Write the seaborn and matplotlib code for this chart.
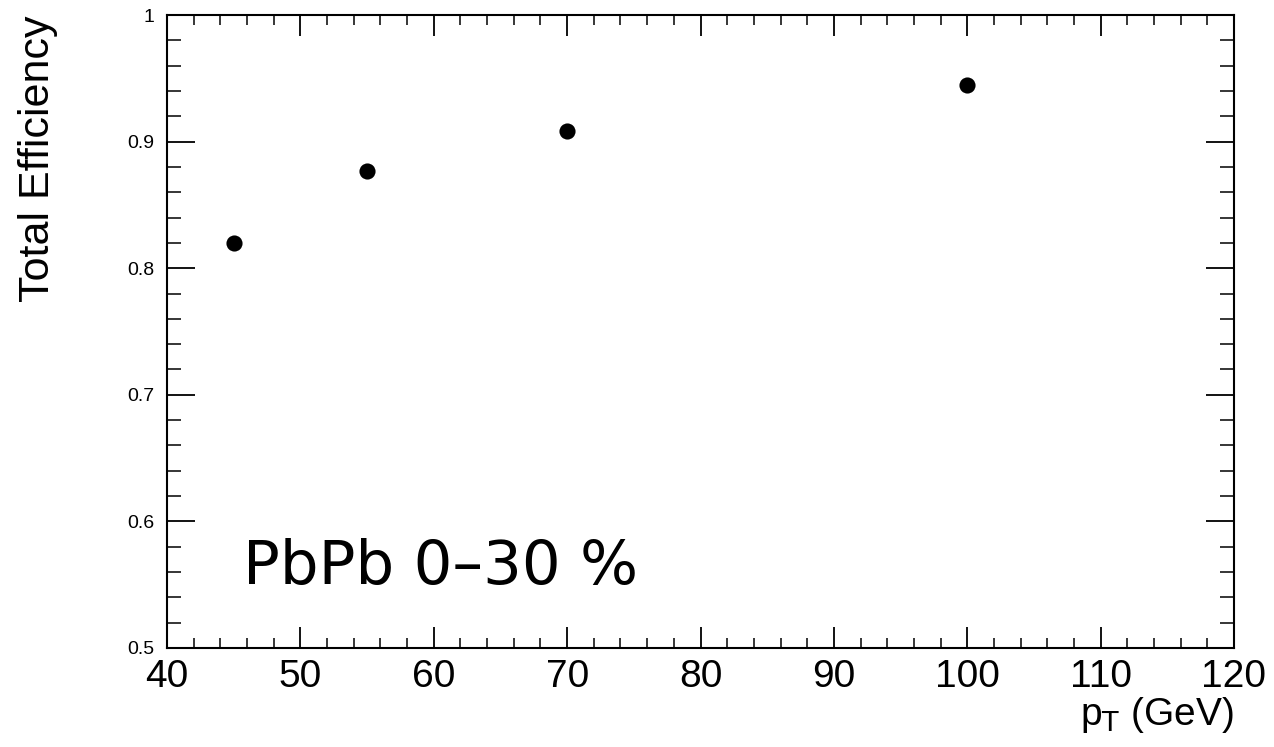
import matplotlib
matplotlib.use("Agg")
import matplotlib.pyplot as plt
import seaborn as sns
import pandas as pd
from matplotlib.ticker import MultipleLocator, FuncFormatter

pt = [45, 55, 70, 100]
efficiency = [0.820, 0.877, 0.908, 0.945]

df = pd.DataFrame({"pt": pt, "eff": efficiency})

sns.set_theme(style="ticks")
plt.rcParams['font.family'] = ['Liberation Sans', 'DejaVu Sans']
plt.rcParams['mathtext.default'] = 'regular'

fig = plt.figure(figsize=(12.74, 7.47), dpi=100)
ax = fig.add_axes([167/1274, 99/747, 1067/1274, 633/747])

sns.scatterplot(data=df, x="pt", y="eff", ax=ax, color="black", s=135,
                edgecolor="black", linewidth=0, legend=False, zorder=3)

ax.set_xlim(40, 120)
ax.set_ylim(0.5, 1.0)
ax.xaxis.set_major_locator(MultipleLocator(10))
ax.xaxis.set_minor_locator(MultipleLocator(2))
ax.yaxis.set_major_locator(MultipleLocator(0.1))
ax.yaxis.set_minor_locator(MultipleLocator(0.02))

def yfmt(v, p):
    s = f"{v:.1f}"
    return "1" if abs(v - 1) < 1e-9 else s
ax.yaxis.set_major_formatter(FuncFormatter(yfmt))
ax.xaxis.set_major_formatter(FuncFormatter(lambda v, p: f"{v:.0f}"))

for sp in ax.spines.values():
    sp.set_linewidth(1.5)
    sp.set_color("black")
    sp.set_visible(True)

ax.tick_params(axis="x", which="major", direction="in", length=15, width=1.3,
               top=True, bottom=True, labelsize=28, pad=8, colors="black")
ax.tick_params(axis="x", which="minor", direction="in", length=7.5, width=1.3,
               top=True, bottom=True)
ax.tick_params(axis="y", which="major", direction="in", length=20, width=1.3,
               left=True, right=True, labelsize=14, pad=9, colors="black")
ax.tick_params(axis="y", which="minor", direction="in", length=10, width=1.3,
               left=True, right=True)

ax.set_xlabel("")
ax.set_ylabel("")
ax.text(1.0, -0.075, "$p_{\\mathsf{T}}$ (GeV)", transform=ax.transAxes,
        fontsize=28, ha="right", va="top", color="black")
ax.text(-0.121, 1.0, "Total Efficiency", transform=ax.transAxes,
        fontsize=31, rotation=90, ha="center", va="top", color="black")

ax.text(0.071, 0.101, "PbPb 0\u201330 %", transform=ax.transAxes,
        fontsize=44, family="DejaVu Sans", color="black", ha="left", va="baseline")

ax.grid(False)
fig.savefig("out.png", dpi=100, facecolor="white")
